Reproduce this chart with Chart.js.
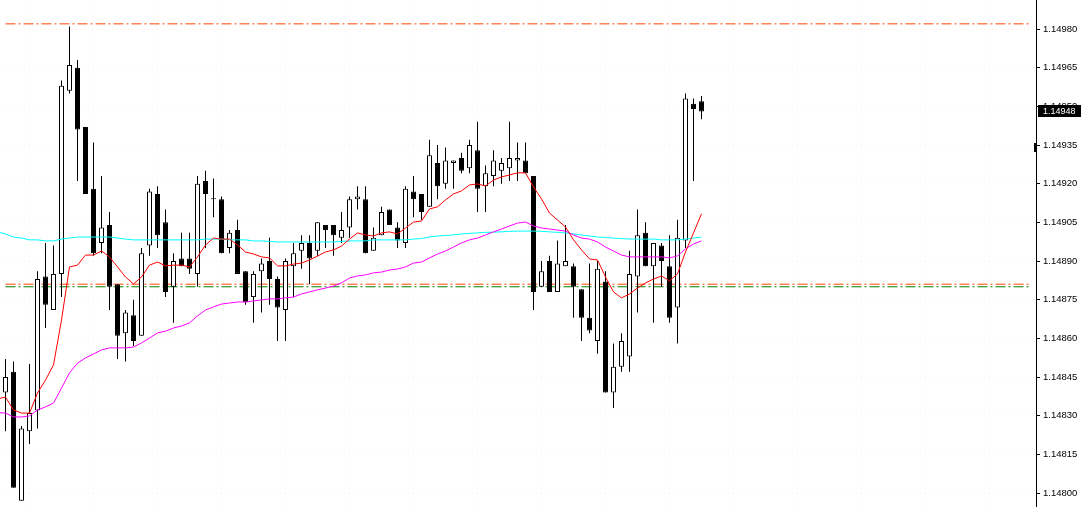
<!DOCTYPE html>
<html><head><meta charset="utf-8">
<script src="https://cdn.jsdelivr.net/npm/chart.js@4.4.1/dist/chart.umd.min.js"></script>
<style>html,body{margin:0;padding:0;background:#fff;overflow:hidden}canvas{display:block}</style>
</head><body>
<canvas id="c" width="1082" height="507"></canvas>
<script>
// OHLC per bar (EURUSD-like quotes)
const open=[1.14839,1.14847,1.14797,1.14824,1.14832,1.14884,1.14871,1.14885,1.14956,1.14965,
1.14942,1.14918,1.14897,1.14904,1.14881,1.14862,1.14869,1.14861,1.14896,1.14916,
1.14905,1.14880,1.14891,1.14891,1.14885,1.14921,1.14914,1.14914,1.14895,1.14902,
1.14886,1.14876,1.14886,1.14890,1.14883,1.14871,1.14888,1.14894,1.14897,1.14894,
1.14904,1.14904,1.14899,1.14903,1.14914,1.14914,1.14894,1.14900,1.14910,1.14903,
1.14897,1.14917,1.14916,1.14911,1.14928,1.14920,1.14928,1.14930,1.14926,1.14933,
1.14919,1.14923,1.14925,1.14926,1.14929,1.14929,1.14923,1.14880,1.14890,1.14878,
1.14888,1.14888,1.14879,1.14868,1.14859,1.14882,1.14839,1.14849,1.14853,1.14884,
1.14901,1.14888,1.14896,1.14888,1.14872,1.14898,1.14951,1.14952];
const high=[1.14852,1.14851,1.14826,1.14850,1.14886,1.14897,1.14896,1.14960,1.14981,1.14968,
1.14942,1.14936,1.14923,1.14909,1.14881,1.14871,1.14875,1.14895,1.14918,1.14919,
1.14910,1.14893,1.14901,1.14901,1.14923,1.14925,1.14922,1.14915,1.14902,1.14906,
1.14886,1.14886,1.14891,1.14899,1.14884,1.14891,1.14897,1.14900,1.14900,1.14905,
1.14904,1.14904,1.14909,1.14915,1.14919,1.14919,1.14903,1.14911,1.14910,1.14905,
1.14919,1.14923,1.14916,1.14937,1.14935,1.14934,1.14929,1.14932,1.14937,1.14944,
1.14927,1.14933,1.14930,1.14944,1.14936,1.14936,1.14923,1.14890,1.14892,1.14898,
1.14904,1.14889,1.14879,1.14889,1.14890,1.14886,1.14858,1.14862,1.14894,1.14910,
1.14905,1.14897,1.14897,1.14900,1.14906,1.14955,1.14953,1.14954];
const low=[1.14824,1.14802,1.14797,1.14819,1.14825,1.14864,1.14871,1.14876,1.14955,1.14921,
1.14916,1.14892,1.14893,1.14871,1.14852,1.14851,1.14857,1.14861,1.14892,1.14895,
1.14876,1.14866,1.14888,1.14885,1.14880,1.14895,1.14907,1.14893,1.14893,1.14885,
1.14873,1.14866,1.14870,1.14873,1.14859,1.14859,1.14876,1.14887,1.14881,1.14892,
1.14895,1.14892,1.14897,1.14899,1.14910,1.14893,1.14894,1.14900,1.14904,1.14895,
1.14895,1.14907,1.14906,1.14911,1.14914,1.14918,1.14918,1.14924,1.14924,1.14909,
1.14909,1.14919,1.14920,1.14921,1.14921,1.14924,1.14871,1.14880,1.14878,1.14878,
1.14888,1.14868,1.14859,1.14862,1.14854,1.14839,1.14833,1.14847,1.14847,1.14870,
1.14888,1.14866,1.14880,1.14866,1.14858,1.14895,1.14921,1.14945];
const close=[1.14845,1.14802,1.14825,1.14831,1.14883,1.14873,1.14885,1.14958,1.14966,1.14941,
1.14916,1.14893,1.14903,1.14880,1.14861,1.14870,1.14859,1.14893,1.14917,1.14900,
1.14878,1.14890,1.14888,1.14887,1.14920,1.14916,1.14914,1.14893,1.14901,1.14885,
1.14874,1.14885,1.14889,1.14883,1.14872,1.14890,1.14893,1.14897,1.14891,1.14905,
1.14902,1.14900,1.14902,1.14914,1.14915,1.14893,1.14899,1.14909,1.14904,1.14898,
1.14918,1.14914,1.14909,1.14931,1.14919,1.14929,1.14929,1.14925,1.14935,1.14918,
1.14924,1.14929,1.14928,1.14930,1.14930,1.14924,1.14878,1.14886,1.14878,1.14889,
1.14890,1.14880,1.14868,1.14863,1.14887,1.14839,1.14849,1.14859,1.14885,1.14900,
1.14888,1.14897,1.14890,1.14868,1.14899,1.14953,1.14949,1.14948];

// Moving averages; first value belongs to bar index -1
const maFirstIndex=-1;
const maRed=[1.148365,
1.148372,1.148322,1.148310,1.148310,1.148388,1.148438,1.148497,1.148671,1.148877,1.148884,
1.148923,1.148923,1.148939,1.148916,1.148877,1.148838,1.148811,1.148838,1.148884,1.148896,
1.148881,1.148884,1.148884,1.148877,1.148916,1.148962,1.148989,1.148985,1.148985,1.148962,
1.148935,1.148927,1.148916,1.148912,1.148881,1.148881,1.148888,1.148892,1.148904,1.148919,
1.148935,1.148943,1.148958,1.148985,1.149009,1.149001,1.148997,1.149009,1.149013,1.149005,
1.149028,1.149051,1.149055,1.149102,1.149110,1.149137,1.149160,1.149172,1.149195,1.149199,
1.149191,1.149214,1.149226,1.149234,1.149242,1.149242,1.149187,1.149141,1.149086,1.149059,
1.149032,1.148982,1.148943,1.148908,1.148904,1.148838,1.148780,1.148757,1.148772,1.148795,
1.148815,1.148830,1.148842,1.148823,1.148850,1.148935,1.149009,1.149083];
const maMagenta=[1.148312,
1.148310,1.148295,1.148295,1.148299,1.148322,1.148334,1.148349,1.148407,1.148466,1.148504,
1.148524,1.148539,1.148555,1.148563,1.148563,1.148563,1.148566,1.148582,1.148601,1.148621,
1.148628,1.148640,1.148648,1.148660,1.148687,1.148710,1.148722,1.148733,1.148737,1.148741,
1.148741,1.148745,1.148749,1.148753,1.148753,1.148757,1.148760,1.148772,1.148780,1.148788,
1.148795,1.148803,1.148815,1.148834,1.148842,1.148846,1.148854,1.148857,1.148865,1.148869,
1.148877,1.148892,1.148896,1.148912,1.148927,1.148939,1.148954,1.148970,1.148982,1.148989,
1.149001,1.149013,1.149024,1.149036,1.149047,1.149051,1.149036,1.149028,1.149024,1.149020,
1.149016,1.149001,1.148989,1.148985,1.148974,1.148954,1.148939,1.148923,1.148916,1.148916,
1.148916,1.148916,1.148916,1.148912,1.148920,1.148947,1.148966,1.148978];
const maCyan=[1.149013,
1.149005,1.148993,1.148989,1.148982,1.148982,1.148978,1.148978,1.148985,1.148989,1.148993,
1.148993,1.148993,1.148993,1.148993,1.148989,1.148985,1.148982,1.148982,1.148982,1.148982,
1.148982,1.148982,1.148982,1.148982,1.148982,1.148985,1.148985,1.148985,1.148982,1.148982,
1.148982,1.148978,1.148978,1.148976,1.148974,1.148974,1.148974,1.148974,1.148974,1.148974,
1.148974,1.148974,1.148976,1.148978,1.148978,1.148978,1.148982,1.148982,1.148982,1.148982,
1.148982,1.148985,1.148987,1.148993,1.148997,1.148999,1.149001,1.149005,1.149007,1.149009,
1.149011,1.149012,1.149013,1.149015,1.149016,1.149016,1.149016,1.149015,1.149013,1.149011,
1.149009,1.149005,1.149001,1.148997,1.148993,1.148991,1.148989,1.148987,1.148985,1.148985,
1.148985,1.148985,1.148982,1.148982,1.148982,1.148985,1.148989,1.148993];

// Price axis tick labels
const tickLabels=['1.14800','1.14815','1.14830','1.14845','1.14860','1.14875','1.14890',
'1.14905','1.14920','1.14935','1.14950','1.14965','1.14980'];

// Horizontal level lines (price, colour)
const levelPrices=[1.14982,1.14881,1.14880];
const levelColors=['#FF4500','#FF4500','#008000'];
const levelSpan=[0,128];
const markerPrice=1.14935;

// ---- layout constants (not data) ----
const X_MIN=-0.6875, X_MAX=128.8125;
const Y_MIN=1.1479457, Y_MAX=1.1499125;
const vGrid=[]; for(let g=3; g<X_MAX; g+=8) vGrid.push(g);
const GRID='rgba(225,225,185,0.35)';

const bodies=open.map((o,i)=>({x:i,y:[o,close[i]]}));
const wicks=low.map((l,i)=>({x:i,y:[l,high[i]]}));
const bodyColors=open.map((o,i)=> close[i]>o ? '#ffffff' : '#000000');
const maPts=arr=>arr.map((v,k)=>({x:k+maFirstIndex,y:v}));

const datasets=[
 {type:'line',label:'MA fast',data:maPts(maRed),borderColor:'#FF0000',borderWidth:1,pointRadius:0,tension:0,order:0},
 {type:'line',label:'MA mid',data:maPts(maMagenta),borderColor:'#FF00FF',borderWidth:1,pointRadius:0,tension:0,order:1},
 {type:'line',label:'MA slow',data:maPts(maCyan),borderColor:'#00FFFF',borderWidth:1,pointRadius:0,tension:0,order:2},
 {type:'bar',label:'body',data:bodies,backgroundColor:bodyColors,borderColor:'#000',borderWidth:1,
  borderSkipped:false,barThickness:5,grouped:false,inflateAmount:0,minBarLength:1,order:3},
 {type:'bar',label:'wick',data:wicks,backgroundColor:'#000',borderWidth:0,barThickness:1,
  grouped:false,inflateAmount:0,order:4}
];
levelPrices.forEach((p,k)=>datasets.push({type:'line',label:'level'+k,
  data:levelSpan.map(x=>({x:x,y:p})),borderColor:levelColors[k],borderWidth:1,
  borderDash:[10,3,2,3],pointRadius:0,order:5+k}));

const priceTag={
 id:'priceTag',
 afterDraw(chart){
  const ys=chart.scales.y, ctx=chart.ctx;
  const last=close[close.length-1];
  const py=Math.round(ys.getPixelForValue(last));
  ctx.save();
  ctx.fillStyle='#000';
  ctx.fillRect(ys.left+2,py-6,ys.width-3,12);
  ctx.fillStyle='#fff';
  ctx.font='9px "Liberation Sans", Arial, sans-serif';
  ctx.textBaseline='middle';
  ctx.textAlign='left';
  ctx.fillText(last.toFixed(5),ys.left+7,py+0.5);
  const my=Math.round(ys.getPixelForValue(markerPrice));
  ctx.fillStyle='#000';
  ctx.fillRect(ys.left-2,my-2,3,9);
  ctx.restore();
 }
};

Chart.defaults.font.family='"Liberation Sans", Arial, sans-serif';
new Chart(document.getElementById('c'),{
 type:'bar',
 data:{datasets},
 plugins:[priceTag],
 options:{
  responsive:false,animation:false,devicePixelRatio:1,
  layout:{padding:0,autoPadding:false},
  plugins:{legend:{display:false},tooltip:{enabled:false},title:{display:false}},
  scales:{
   x:{type:'linear',min:X_MIN,max:X_MAX,offset:false,
      ticks:{display:false},
      grid:{display:true,drawTicks:false,offset:false,color:GRID,lineWidth:1},
      border:{display:false,dash:[1,3]},
      afterBuildTicks:s=>{s.ticks=vGrid.map(v=>({value:v}));}},
   y:{type:'linear',position:'right',min:Y_MIN,max:Y_MAX,beginAtZero:false,
      ticks:{color:'#000',padding:3,font:{size:9.5},autoSkip:false,
        callback:(v)=>v.toFixed(5)},
      grid:{color:GRID,tickColor:'#000',tickLength:4,tickBorderDash:[0,0],drawTicks:true},
      border:{display:true,color:'#000',width:1,dash:[1,3]},
      afterBuildTicks:s=>{s.ticks=tickLabels.map(t=>({value:parseFloat(t)}));},
      afterFit:s=>{s.width=46;s.paddingTop=0;s.paddingBottom=0;}}
  }
 }
});
</script>
</body></html>
